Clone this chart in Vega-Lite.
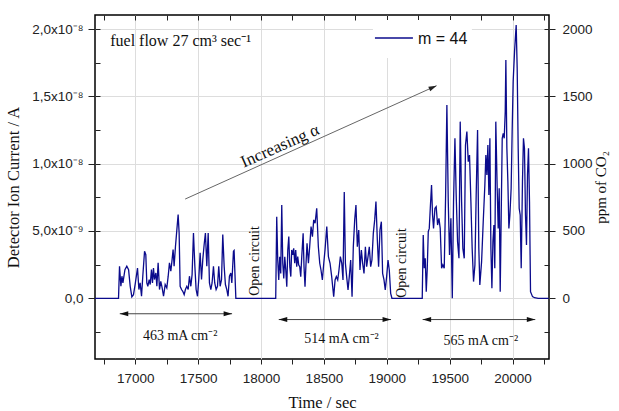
{
  "$schema": "https://vega.github.io/schema/vega-lite/v6.json",
  "width": 454,
  "height": 344,
  "autosize": {"type": "none"},
  "padding": {"left": 95, "top": 15, "right": 70, "bottom": 52},
  "background": "white",
  "config": {
    "view": {"stroke": "#000000", "strokeWidth": 1.5},
    "axis": {
      "domain": false,
      "labelFont": "Liberation Sans",
      "labelFontSize": 13.5,
      "labelColor": "#222222",
      "titleFont": "Liberation Serif",
      "titleFontSize": 16.5,
      "titleFontWeight": "normal",
      "titleColor": "#111111",
      "tickColor": "#222222",
      "tickWidth": 1,
      "gridColor": "#dddddd",
      "gridWidth": 1
    }
  },
  "datasets": {
    "s": [
      {"t":16680,"ppm":0},{"t":16867,"ppm":0},{"t":16875,"ppm":238},{"t":16886,"ppm":89},{"t":16894,"ppm":164},{"t":16902,"ppm":114},{"t":16918,"ppm":213},{"t":16933,"ppm":238},{"t":16947,"ppm":213},{"t":16960,"ppm":89},{"t":16973,"ppm":10},{"t":16986,"ppm":27},{"t":16999,"ppm":102},{"t":17018,"ppm":225},{"t":17029,"ppm":65},{"t":17039,"ppm":114},{"t":17050,"ppm":15},{"t":17060,"ppm":164},{"t":17074,"ppm":349},{"t":17084,"ppm":324},{"t":17092,"ppm":114},{"t":17100,"ppm":89},{"t":17111,"ppm":139},{"t":17119,"ppm":102},{"t":17129,"ppm":213},{"t":17137,"ppm":114},{"t":17145,"ppm":225},{"t":17153,"ppm":139},{"t":17164,"ppm":188},{"t":17172,"ppm":89},{"t":17182,"ppm":263},{"t":17193,"ppm":65},{"t":17203,"ppm":126},{"t":17214,"ppm":77},{"t":17225,"ppm":15},{"t":17238,"ppm":102},{"t":17251,"ppm":77},{"t":17262,"ppm":164},{"t":17272,"ppm":263},{"t":17283,"ppm":201},{"t":17293,"ppm":287},{"t":17301,"ppm":362},{"t":17309,"ppm":238},{"t":17320,"ppm":386},{"t":17331,"ppm":510},{"t":17341,"ppm":622},{"t":17349,"ppm":485},{"t":17357,"ppm":89},{"t":17368,"ppm":65},{"t":17378,"ppm":52},{"t":17389,"ppm":27},{"t":17399,"ppm":65},{"t":17410,"ppm":89},{"t":17421,"ppm":65},{"t":17431,"ppm":164},{"t":17442,"ppm":89},{"t":17452,"ppm":176},{"t":17463,"ppm":485},{"t":17474,"ppm":238},{"t":17484,"ppm":65},{"t":17495,"ppm":15},{"t":17505,"ppm":139},{"t":17516,"ppm":337},{"t":17527,"ppm":139},{"t":17537,"ppm":287},{"t":17548,"ppm":399},{"t":17558,"ppm":485},{"t":17569,"ppm":238},{"t":17580,"ppm":485},{"t":17590,"ppm":114},{"t":17601,"ppm":65},{"t":17611,"ppm":114},{"t":17622,"ppm":238},{"t":17632,"ppm":114},{"t":17643,"ppm":65},{"t":17654,"ppm":89},{"t":17664,"ppm":238},{"t":17675,"ppm":89},{"t":17686,"ppm":139},{"t":17696,"ppm":473},{"t":17707,"ppm":238},{"t":17717,"ppm":102},{"t":17728,"ppm":65},{"t":17738,"ppm":15},{"t":17749,"ppm":164},{"t":17760,"ppm":188},{"t":17768,"ppm":114},{"t":17781,"ppm":349},{"t":17786,"ppm":355},{"t":17800,"ppm":0},
      {"t":18117,"ppm":0},{"t":18125,"ppm":606},{"t":18133,"ppm":284},{"t":18141,"ppm":136},{"t":18149,"ppm":309},{"t":18157,"ppm":185},{"t":18165,"ppm":693},{"t":18173,"ppm":260},{"t":18181,"ppm":148},{"t":18189,"ppm":309},{"t":18197,"ppm":210},{"t":18205,"ppm":86},{"t":18213,"ppm":359},{"t":18221,"ppm":458},{"t":18229,"ppm":235},{"t":18237,"ppm":161},{"t":18244,"ppm":359},{"t":18252,"ppm":322},{"t":18260,"ppm":371},{"t":18268,"ppm":260},{"t":18276,"ppm":359},{"t":18284,"ppm":235},{"t":18292,"ppm":309},{"t":18300,"ppm":247},{"t":18308,"ppm":235},{"t":18316,"ppm":161},{"t":18324,"ppm":309},{"t":18335,"ppm":482},{"t":18342,"ppm":235},{"t":18350,"ppm":86},{"t":18358,"ppm":260},{"t":18366,"ppm":408},{"t":18377,"ppm":260},{"t":18387,"ppm":383},{"t":18398,"ppm":532},{"t":18409,"ppm":458},{"t":18419,"ppm":582},{"t":18430,"ppm":557},{"t":18443,"ppm":668},{"t":18456,"ppm":383},{"t":18467,"ppm":260},{"t":18477,"ppm":210},{"t":18488,"ppm":136},{"t":18499,"ppm":260},{"t":18509,"ppm":359},{"t":18523,"ppm":532},{"t":18536,"ppm":309},{"t":18549,"ppm":260},{"t":18562,"ppm":161},{"t":18578,"ppm":12},{"t":18589,"ppm":136},{"t":18599,"ppm":161},{"t":18610,"ppm":136},{"t":18620,"ppm":210},{"t":18631,"ppm":309},{"t":18642,"ppm":260},{"t":18652,"ppm":136},{"t":18662,"ppm":790},{"t":18671,"ppm":260},{"t":18681,"ppm":161},{"t":18692,"ppm":62},{"t":18702,"ppm":161},{"t":18713,"ppm":284},{"t":18724,"ppm":12},{"t":18734,"ppm":383},{"t":18745,"ppm":582},{"t":18755,"ppm":693},{"t":18766,"ppm":383},{"t":18777,"ppm":507},{"t":18787,"ppm":210},{"t":18798,"ppm":359},{"t":18808,"ppm":260},{"t":18819,"ppm":185},{"t":18830,"ppm":383},{"t":18840,"ppm":235},{"t":18851,"ppm":309},{"t":18861,"ppm":383},{"t":18872,"ppm":235},{"t":18882,"ppm":284},{"t":18893,"ppm":482},{"t":18904,"ppm":582},{"t":18914,"ppm":718},{"t":18925,"ppm":433},{"t":18935,"ppm":235},{"t":18946,"ppm":507},{"t":18957,"ppm":569},{"t":18967,"ppm":185},{"t":18978,"ppm":136},{"t":18988,"ppm":62},{"t":18999,"ppm":161},{"t":19010,"ppm":284},{"t":19020,"ppm":210},{"t":19031,"ppm":37},{"t":19041,"ppm":0},
      {"t":19282,"ppm":0},{"t":19290,"ppm":470},{"t":19298,"ppm":223},{"t":19306,"ppm":297},{"t":19314,"ppm":49},{"t":19322,"ppm":223},{"t":19330,"ppm":495},{"t":19338,"ppm":519},{"t":19346,"ppm":668},{"t":19356,"ppm":841},{"t":19364,"ppm":619},{"t":19372,"ppm":519},{"t":19383,"ppm":668},{"t":19393,"ppm":680},{"t":19404,"ppm":544},{"t":19415,"ppm":594},{"t":19425,"ppm":519},{"t":19436,"ppm":223},{"t":19446,"ppm":248},{"t":19457,"ppm":223},{"t":19468,"ppm":767},{"t":19478,"ppm":1436},{"t":19489,"ppm":717},{"t":19499,"ppm":322},{"t":19510,"ppm":594},{"t":19521,"ppm":0},{"t":19531,"ppm":717},{"t":19542,"ppm":1188},{"t":19552,"ppm":767},{"t":19563,"ppm":420},{"t":19574,"ppm":297},{"t":19584,"ppm":1312},{"t":19595,"ppm":717},{"t":19605,"ppm":371},{"t":19616,"ppm":297},{"t":19626,"ppm":1139},{"t":19637,"ppm":1238},{"t":19648,"ppm":1015},{"t":19658,"ppm":1064},{"t":19669,"ppm":717},{"t":19679,"ppm":371},{"t":19690,"ppm":124},{"t":19701,"ppm":248},{"t":19711,"ppm":767},{"t":19722,"ppm":1250},{"t":19732,"ppm":371},{"t":19740,"ppm":99},{"t":19754,"ppm":272},{"t":19767,"ppm":569},{"t":19780,"ppm":841},{"t":19788,"ppm":1064},{"t":19796,"ppm":916},{"t":19804,"ppm":1138},{"t":19812,"ppm":767},{"t":19820,"ppm":1188},{"t":19828,"ppm":371},{"t":19836,"ppm":74},{"t":19844,"ppm":420},{"t":19852,"ppm":544},{"t":19859,"ppm":223},{"t":19867,"ppm":1312},{"t":19878,"ppm":817},{"t":19886,"ppm":519},{"t":19894,"ppm":817},{"t":19902,"ppm":49},{"t":19910,"ppm":619},{"t":19918,"ppm":1188},{"t":19926,"ppm":1225},{"t":19934,"ppm":1188},{"t":19942,"ppm":1386},{"t":19947,"ppm":1770},{"t":19955,"ppm":1114},{"t":19963,"ppm":866},{"t":19971,"ppm":519},{"t":19979,"ppm":619},{"t":19989,"ppm":817},{"t":19997,"ppm":1237},{"t":20005,"ppm":1609},{"t":20016,"ppm":1832},{"t":20029,"ppm":2030},{"t":20037,"ppm":1708},{"t":20045,"ppm":1114},{"t":20053,"ppm":668},{"t":20061,"ppm":619},{"t":20069,"ppm":223},{"t":20079,"ppm":866},{"t":20087,"ppm":1188},{"t":20095,"ppm":1114},{"t":20103,"ppm":619},{"t":20111,"ppm":396},{"t":20119,"ppm":916},{"t":20127,"ppm":1114},{"t":20135,"ppm":717},{"t":20143,"ppm":49},{"t":20159,"ppm":12},{"t":20175,"ppm":4},{"t":20204,"ppm":0},{"t":20288,"ppm":0}
    ],
    "arrows": [
      {"t": 16877, "t2": 17770, "ppm": -115},
      {"t": 18141, "t2": 19034, "ppm": -158},
      {"t": 19285, "t2": 20181, "ppm": -158}
    ],
    "densities": [
      {"t": 17357, "ppm": -280, "label": "463 mA cm⁻²"},
      {"t": 18640, "ppm": -299, "label": "514 mA cm⁻²"},
      {"t": 19748, "ppm": -317, "label": "565 mA cm⁻²"}
    ],
    "open": [
      {"t": 17953, "ppm": 277, "label": "Open circuit"},
      {"t": 19125, "ppm": 262, "label": "Open circuit"}
    ],
    "trend": [{"t": 17397, "ppm": 737, "t2": 19396, "ppm2": 1579}],
    "trendLabel": [{"t": 18152, "ppm": 1130, "label": "Increasing α"}],
    "note": [{"t": 16801, "ppm": 1911, "label": "fuel flow 27 cm³ sec⁻¹"}],
    "legendBox": [{"t": 18890, "t2": 19677, "ppm": 1785, "ppm2": 2067}],
    "legendLine": [{"t": 18906, "t2": 19208, "ppm": 1933}],
    "legendText": [{"t": 19248, "ppm": 1926, "label": "m = 44"}]
  },
  "layer": [
    {
      "data": {"name": "s"},
      "mark": {"type": "line", "color": "#0b0b8c", "strokeWidth": 1.3, "clip": true},
      "encoding": {
        "x": {"field": "t", "type": "quantitative", "scale": {"domain": [16680, 20290], "nice": false, "zero": false},
          "axis": {"orient": "bottom", "values": [17000, 17500, 18000, 18500, 19000, 19500, 20000], "grid": true, "tickSize": 5, "labelPadding": 7, "format": "d", "title": "Time / sec", "titlePadding": 10}},
        "y": {"field": "ppm", "type": "quantitative", "scale": {"domain": [-451, 2104], "nice": false, "zero": false},
          "axis": {"orient": "left", "values": [0, 500, 1000, 1500, 2000], "grid": true, "tickSize": 7, "labelPadding": 5,
            "labelExpr": "datum.value == 0 ? '0,0' : datum.value == 500 ? '5,0x10⁻⁹' : datum.value == 1000 ? '1,0x10⁻⁸' : datum.value == 1500 ? '1,5x10⁻⁸' : '2,0x10⁻⁸'",
            "title": "Detector Ion Current / A", "titlePadding": 10}}
      }
    },
    {
      "data": {"name": "s"},
      "mark": {"type": "point", "opacity": 0},
      "encoding": {
        "x": {"field": "t", "type": "quantitative", "scale": {"domain": [16680, 20290], "nice": false, "zero": false},
          "axis": {"orient": "bottom", "values": [16750, 17250, 17750, 18250, 18750, 19250, 19750, 20250], "labels": false, "grid": false, "tickSize": 5, "title": null}},
        "y": {"field": "ppm", "type": "quantitative", "scale": {"domain": [-451, 2104], "nice": false, "zero": false},
          "axis": {"orient": "right", "values": [0, 500, 1000, 1500, 2000], "grid": false, "tickSize": 6, "labelPadding": 7, "format": "d",
            "title": "ppm of CO₂", "titleAngle": 270, "titleFontSize": 15, "titlePadding": 16}}
      }
    },
    {
      "data": {"name": "s"},
      "mark": {"type": "point", "opacity": 0},
      "encoding": {
        "x": {"field": "t", "type": "quantitative", "scale": {"domain": [16680, 20290], "nice": false, "zero": false},
          "axis": {"orient": "top", "values": [16750, 17000, 17250, 17500, 17750, 18000, 18250, 18500, 18750, 19000, 19250, 19500, 19750, 20000, 20250], "labels": false, "grid": false, "tickSize": -5, "title": null}},
        "y": {"field": "ppm", "type": "quantitative", "scale": {"domain": [-451, 2104], "nice": false, "zero": false},
          "axis": {"orient": "left", "values": [-250, 0, 250, 500, 750, 1000, 1250, 1500, 1750, 2000], "labels": false, "grid": false, "tickSize": -5, "title": null}}
      }
    },
    {
      "data": {"name": "s"},
      "mark": {"type": "point", "opacity": 0},
      "encoding": {
        "x": {"field": "t", "type": "quantitative", "scale": {"domain": [16680, 20290], "nice": false, "zero": false}, "axis": null},
        "y": {"field": "ppm", "type": "quantitative", "scale": {"domain": [-451, 2104], "nice": false, "zero": false},
          "axis": {"orient": "right", "values": [-250, 0, 250, 500, 750, 1000, 1250, 1500, 1750, 2000], "labels": false, "grid": false, "tickSize": -5, "title": null}}
      }
    },
    {
      "data": {"name": "legendBox"},
      "mark": {"type": "rect", "fill": "white"},
      "encoding": {
        "x": {"field": "t", "type": "quantitative", "scale": {"domain": [16680, 20290], "nice": false, "zero": false}, "axis": null},
        "x2": {"field": "t2"},
        "y": {"field": "ppm", "type": "quantitative", "scale": {"domain": [-451, 2104], "nice": false, "zero": false}, "axis": null},
        "y2": {"field": "ppm2"}
      }
    },
    {
      "data": {"name": "legendLine"},
      "mark": {"type": "rule", "color": "#0b0b8c", "strokeWidth": 1.5},
      "encoding": {
        "x": {"field": "t", "type": "quantitative", "scale": {"domain": [16680, 20290], "nice": false, "zero": false}, "axis": null},
        "x2": {"field": "t2"},
        "y": {"field": "ppm", "type": "quantitative", "scale": {"domain": [-451, 2104], "nice": false, "zero": false}, "axis": null}
      }
    },
    {
      "data": {"name": "legendText"},
      "mark": {"type": "text", "align": "left", "baseline": "middle", "font": "Liberation Sans", "fontSize": 16, "color": "#111111"},
      "encoding": {
        "x": {"field": "t", "type": "quantitative", "scale": {"domain": [16680, 20290], "nice": false, "zero": false}, "axis": null},
        "y": {"field": "ppm", "type": "quantitative", "scale": {"domain": [-451, 2104], "nice": false, "zero": false}, "axis": null},
        "text": {"field": "label"}
      }
    },
    {
      "data": {"name": "note"},
      "mark": {"type": "text", "align": "left", "baseline": "middle", "font": "Liberation Serif", "fontSize": 16, "color": "#111111"},
      "encoding": {
        "x": {"field": "t", "type": "quantitative", "scale": {"domain": [16680, 20290], "nice": false, "zero": false}, "axis": null},
        "y": {"field": "ppm", "type": "quantitative", "scale": {"domain": [-451, 2104], "nice": false, "zero": false}, "axis": null},
        "text": {"field": "label"}
      }
    },
    {
      "data": {"name": "trend"},
      "mark": {"type": "rule", "color": "#666666", "strokeWidth": 1},
      "encoding": {
        "x": {"field": "t", "type": "quantitative", "scale": {"domain": [16680, 20290], "nice": false, "zero": false}, "axis": null},
        "x2": {"field": "t2"},
        "y": {"field": "ppm", "type": "quantitative", "scale": {"domain": [-451, 2104], "nice": false, "zero": false}, "axis": null},
        "y2": {"field": "ppm2"}
      }
    },
    {
      "data": {"name": "trend"},
      "mark": {"type": "point", "shape": "M0,0L-2,-0.6L-2,0.6Z", "filled": true, "color": "#222222", "opacity": 1, "size": 64, "angle": 336},
      "encoding": {
        "x": {"field": "t2", "type": "quantitative", "scale": {"domain": [16680, 20290], "nice": false, "zero": false}, "axis": null},
        "y": {"field": "ppm2", "type": "quantitative", "scale": {"domain": [-451, 2104], "nice": false, "zero": false}, "axis": null}
      }
    },
    {
      "data": {"name": "trendLabel"},
      "mark": {"type": "text", "align": "center", "baseline": "middle", "font": "Liberation Serif", "fontSize": 17, "angle": 336, "color": "#111111"},
      "encoding": {
        "x": {"field": "t", "type": "quantitative", "scale": {"domain": [16680, 20290], "nice": false, "zero": false}, "axis": null},
        "y": {"field": "ppm", "type": "quantitative", "scale": {"domain": [-451, 2104], "nice": false, "zero": false}, "axis": null},
        "text": {"field": "label"}
      }
    },
    {
      "data": {"name": "open"},
      "mark": {"type": "text", "align": "center", "baseline": "middle", "font": "Liberation Serif", "fontSize": 14, "angle": 270, "color": "#111111"},
      "encoding": {
        "x": {"field": "t", "type": "quantitative", "scale": {"domain": [16680, 20290], "nice": false, "zero": false}, "axis": null},
        "y": {"field": "ppm", "type": "quantitative", "scale": {"domain": [-451, 2104], "nice": false, "zero": false}, "axis": null},
        "text": {"field": "label"}
      }
    },
    {
      "data": {"name": "arrows"},
      "mark": {"type": "rule", "color": "#444444", "strokeWidth": 1},
      "encoding": {
        "x": {"field": "t", "type": "quantitative", "scale": {"domain": [16680, 20290], "nice": false, "zero": false}, "axis": null},
        "x2": {"field": "t2"},
        "y": {"field": "ppm", "type": "quantitative", "scale": {"domain": [-451, 2104], "nice": false, "zero": false}, "axis": null}
      }
    },
    {
      "data": {"name": "arrows"},
      "mark": {"type": "point", "shape": "M0,0L-2,-0.6L-2,0.6Z", "filled": true, "color": "#111111", "opacity": 1, "size": 72},
      "encoding": {
        "x": {"field": "t2", "type": "quantitative", "scale": {"domain": [16680, 20290], "nice": false, "zero": false}, "axis": null},
        "y": {"field": "ppm", "type": "quantitative", "scale": {"domain": [-451, 2104], "nice": false, "zero": false}, "axis": null}
      }
    },
    {
      "data": {"name": "arrows"},
      "mark": {"type": "point", "shape": "M0,0L2,-0.6L2,0.6Z", "filled": true, "color": "#111111", "opacity": 1, "size": 72},
      "encoding": {
        "x": {"field": "t", "type": "quantitative", "scale": {"domain": [16680, 20290], "nice": false, "zero": false}, "axis": null},
        "y": {"field": "ppm", "type": "quantitative", "scale": {"domain": [-451, 2104], "nice": false, "zero": false}, "axis": null}
      }
    },
    {
      "data": {"name": "densities"},
      "mark": {"type": "text", "align": "center", "baseline": "middle", "font": "Liberation Serif", "fontSize": 14, "color": "#111111"},
      "encoding": {
        "x": {"field": "t", "type": "quantitative", "scale": {"domain": [16680, 20290], "nice": false, "zero": false}, "axis": null},
        "y": {"field": "ppm", "type": "quantitative", "scale": {"domain": [-451, 2104], "nice": false, "zero": false}, "axis": null},
        "text": {"field": "label"}
      }
    }
  ],
  "resolve": {"scale": {"x": "shared", "y": "shared"}, "axis": {"x": "independent", "y": "independent"}}
}
